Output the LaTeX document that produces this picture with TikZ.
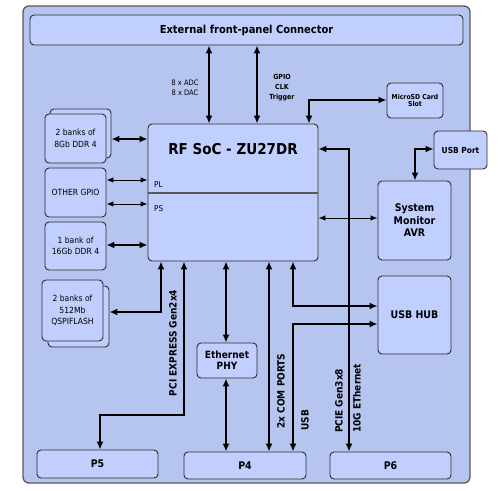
\documentclass[tikz,border=0pt]{standalone}
\usepackage{fontspec}
\setmainfont{DejaVu Sans Condensed}
\usetikzlibrary{arrows.meta,calc}
\definecolor{outerfill}{RGB}{181,197,239}
\definecolor{boxfill}{RGB}{193,207,254}
\definecolor{edgecol}{RGB}{45,45,45}
\definecolor{framecol}{RGB}{90,90,90}
\newcommand{\fs}[1]{\fontsize{#1}{#1}\selectfont}
\begin{document}
\begin{tikzpicture}[x=1pt,y=-1pt,
  box/.style={draw=edgecol, fill=boxfill, rounded corners=4pt, line width=0.9pt,
              inner sep=0pt, align=center},
  framebox/.style={draw=framecol, fill=outerfill, rounded corners=6pt, line width=1.3pt, inner sep=0pt},
  conn/.style={line width=1.6pt, {Latex[length=8pt,width=7pt]}-{Latex[length=8pt,width=7pt]}},
  thinconn/.style={line width=1pt, {Latex[length=7pt,width=5.5pt]}-{Latex[length=7pt,width=5.5pt]}},
  lbl/.style={inner sep=0pt, align=center},
  vlbl/.style={inner sep=0pt, rotate=90, font=\bfseries\fs{10}}
]
\useasboundingbox (0,0) rectangle (500,490);
\fill[white] (0,0) rectangle (500,490);

% outer frame
\node[framebox, minimum width=447pt, minimum height=477pt] (frame) at (246.5,244.5) {};

% connector
\node[box, minimum width=433pt, minimum height=30pt, font=\bfseries\fs{11}] (ext) at (246.5,30) {External front-panel Connector};

% SoC
\node[box, minimum width=170pt, minimum height=137pt] (soc) at (233,192.5) {};
\node[lbl, font=\bfseries\fs{15}] (soctitle) at (233,149) {RF SoC - ZU27DR};
\coordinate (cdiv) at (0,193);
\draw[line width=1.1pt, framecol] (soc.west |- cdiv) -- (soc.east |- cdiv);
\node[lbl, anchor=west, font=\fs{8}] (pl) at (154,185) {PL};
\node[lbl, anchor=west, font=\fs{8}] (ps) at (154,209) {PS};

% right side boxes
\node[box, minimum width=56pt, minimum height=35pt, font=\bfseries\fs{6.8}] (microsd) at (415,100.5) {MicroSD Card\\[1pt]Slot};
\node[box, minimum width=53pt, minimum height=38pt, font=\bfseries\fs{8.3}] (usbport) at (460.5,150) {USB Port};
\node[box, minimum width=73pt, minimum height=79pt, font=\bfseries\fs{10.5}] (sysmon) at (414.5,220.5) {System\\[2pt]Monitor\\[2pt]AVR};
\node[box, minimum width=73pt, minimum height=78pt, font=\bfseries\fs{10.5}] (usbhub) at (414.5,315) {USB HUB};

% left boxes
\node[box, minimum width=61pt, minimum height=49pt] (ddr8b) at (80.5,133.5) {};
\node[box, minimum width=61pt, minimum height=49pt, font=\fs{8.5}] (ddr8) at (75.5,138.5) {2 banks of\\[3pt]8Gb DDR 4};
\node[box, minimum width=61pt, minimum height=49pt, font=\fs{8.5}] (gpio) at (75.5,192.5) {OTHER GPIO};
\node[box, minimum width=61pt, minimum height=48pt, font=\fs{8.5}] (ddr16) at (75.5,246) {1 bank of\\[3pt]16Gb DDR 4};
\node[box, minimum width=61pt, minimum height=61pt] (qspib) at (78.5,316.5) {};
\node[box, minimum width=61pt, minimum height=61pt, font=\fs{8.5}] (qspi) at (72.5,310.5) {2 banks of\\[3pt]512Mb\\[3pt]QSPIFLASH};

% Ethernet PHY
\node[box, minimum width=60pt, minimum height=35pt, font=\bfseries\fs{10}] (ethphy) at (227,360.5) {Ethernet\\[1pt]PHY};

% bottom connectors
\node[box, minimum width=121pt, minimum height=28pt, font=\bfseries\fs{10.5}] (p5) at (97.5,464) {P5};
\node[box, minimum width=122pt, minimum height=27pt, font=\bfseries\fs{10.5}] (p4) at (245,465.5) {P4};
\node[box, minimum width=121pt, minimum height=27pt, font=\bfseries\fs{10.5}] (p6) at (390.5,465.5) {P6};

% helper coordinates
\coordinate (cADC) at (209,0);
\coordinate (cGPIO) at (257,0);
\coordinate (cSD) at (309,100);
\coordinate (cUP) at (415,149);
\coordinate (cSM) at (0,218);
\coordinate (cP6) at (349,149);
\coordinate (cH1) at (293,306);
\coordinate (cH2) at (293,324);
\coordinate (cCOM) at (269,0);
\coordinate (cETH) at (226,0);
\coordinate (cPa) at (184,415);
\coordinate (cPb) at (100,415);
\coordinate (cQ) at (161,312);
\coordinate (yD8) at (0,139);
\coordinate (yG1) at (0,180);
\coordinate (yG2) at (0,204);
\coordinate (yD16) at (0,245);

% connectors
\draw[conn] (ext.south -| cADC) -- (soc.north -| cADC);
\draw[conn] (ext.south -| cGPIO) -- (soc.north -| cGPIO);
\draw[conn] (soc.north -| cSD) -- (cSD) -- (microsd.west |- cSD);
\draw[conn] (sysmon.north -| cUP) -- (cUP) -- (usbport.west |- cUP);
\draw[thinconn] (soc.east |- cSM) -- (sysmon.west |- cSM);
\draw[conn] (soc.east |- cP6) -- (cP6) -- (p6.north -| cP6);
\draw[conn] (soc.south -| cH1) -- (cH1) -- (usbhub.west |- cH1);
\draw[conn] (p4.north -| cH2) -- (cH2) -- (usbhub.west |- cH2);
\draw[conn] (soc.south -| cCOM) -- (p4.north -| cCOM);
\draw[conn] (soc.south -| cETH) -- (ethphy.north -| cETH);
\draw[conn] (ethphy.south -| cETH) -- (p4.north -| cETH);
\draw[conn] (soc.south -| cPa) -- (cPa) -- (cPb) -- (p5.north -| cPb);
\draw[conn] (soc.south -| cQ) -- (cQ) -- (qspib.east |- cQ);
\draw[conn] (ddr8b.east |- yD8) -- (soc.west |- yD8);
\draw[thinconn] (gpio.east |- yG1) -- (soc.west |- yG1);
\draw[thinconn] (gpio.east |- yG2) -- (soc.west |- yG2);
\draw[conn] (ddr16.east |- yD16) -- (soc.west |- yD16);

% connector labels
\node[lbl, font=\fs{7.5}] (adclbl) at (185,88) {8 x ADC\\[3pt]8 x DAC};
\node[lbl, font=\bfseries\fs{7}] (gpiolbl) at (282,88) {GPIO\\[3pt]CLK\\[3pt]Trigger};
\node[vlbl] (pcilbl) at (173,343) {PCI EXPRESS Gen2x4};
\node[vlbl] (comlbl) at (281,391) {2x COM PORTS};
\node[vlbl] (usblbl) at (305,420) {USB};
\node[vlbl, anchor=west, align=left] (p6lbl) at (348,433) {PCIE Gen3x8\\[8pt]10G EThernet};
\end{tikzpicture}
\end{document}
